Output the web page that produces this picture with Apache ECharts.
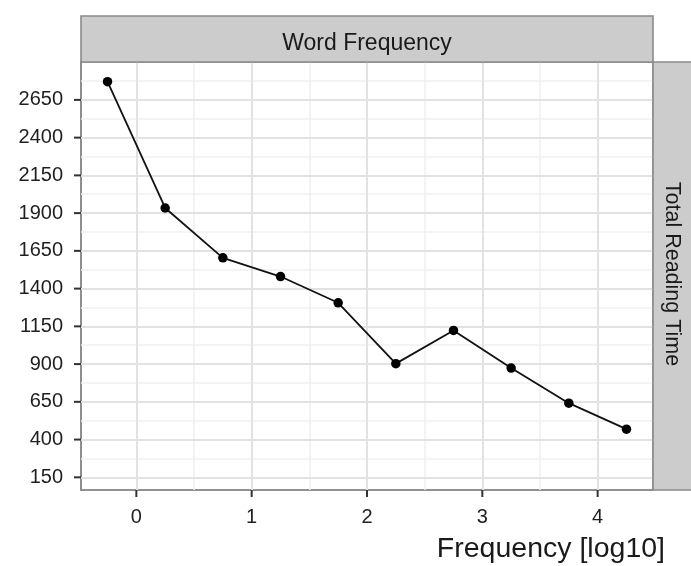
<!DOCTYPE html>
<html>
<head>
<meta charset="utf-8">
<script src="https://cdn.jsdelivr.net/npm/echarts@6/dist/echarts.min.js"></script>
<style>
  html, body { margin: 0; padding: 0; background: #ffffff; }
  #chart { width: 691px; height: 566px; }
</style>
</head>
<body>
<div id="chart"></div>
<script>
// Mean total reading time per word-frequency bin (log10 scale)
const frequencyLog10 = [-0.25, 0.25, 0.75, 1.25, 1.75, 2.25, 2.75, 3.25, 3.75, 4.25];
const readingTime = [2771, 1934, 1604, 1480, 1306, 903, 1123, 874, 641, 469];

// Tick positions and grid lines
const xTicks = [0, 1, 2, 3, 4];
const xMinor = [0.5, 1.5, 2.5, 3.5];
const yTicks = [150, 400, 650, 900, 1150, 1400, 1650, 1900, 2150, 2400, 2650];
const yMinor = [275, 525, 775, 1025, 1275, 1525, 1775, 2025, 2275, 2525, 2775];

const stripTitle = 'Word Frequency';
const rowTitle = 'Total Reading Time';
const xTitle = 'Frequency [log10]';

const chart = echarts.init(document.getElementById('chart'), null, { renderer: 'canvas' });

const gridLeft = 81, gridRight = 38, gridTop = 62, gridBottom = 76;
const W = 691, H = 566;
const panelRight = W - gridRight;
const panelBottom = H - gridBottom;
const xMin = -0.48, xMax = 4.48, yMin = 66, yMax = 2901;

const majorStyle = { color: '#e2e2e2', width: 2, type: 'solid' };
const minorStyle = { color: '#f1f1f1', width: 1.5, type: 'solid' };

const gridLines = []
  .concat(xMinor.map(v => ({ xAxis: v, lineStyle: minorStyle })))
  .concat(yMinor.map(v => ({ yAxis: v, lineStyle: minorStyle })))
  .concat(xTicks.map(v => ({ xAxis: v, lineStyle: majorStyle })))
  .concat(yTicks.map(v => ({ yAxis: v, lineStyle: majorStyle })));

const labelFont = { fontFamily: 'Liberation Sans, Arial, sans-serif', fontSize: 20, color: '#1f1f1f' };
const tickLen = 7;

// Outward tick marks, positioned through the axis scales
function xTickItem(params, api) {
  const p = api.coord([api.value(0), yMin]);
  return {
    type: 'line',
    shape: { x1: p[0], y1: p[1], x2: p[0], y2: p[1] + tickLen },
    style: { stroke: '#333333', lineWidth: 2 }
  };
}
function yTickItem(params, api) {
  const p = api.coord([xMin, api.value(1)]);
  return {
    type: 'line',
    shape: { x1: p[0] - tickLen, y1: p[1], x2: p[0], y2: p[1] },
    style: { stroke: '#333333', lineWidth: 2 }
  };
}

chart.setOption({
  animation: false,
  backgroundColor: '#ffffff',
  grid: {
    left: gridLeft, right: gridRight, top: gridTop, bottom: gridBottom,
    show: true, borderColor: '#8a8a8a', borderWidth: 1.6, backgroundColor: 'transparent'
  },
  xAxis: {
    type: 'value',
    min: xMin,
    max: xMax,
    axisLine: { show: true, onZero: false, lineStyle: { color: '#8a8a8a', width: 1.6 } },
    axisTick: { show: false },
    axisLabel: Object.assign({ customValues: xTicks, margin: 17 }, labelFont),
    splitLine: { show: false }
  },
  yAxis: {
    type: 'value',
    min: yMin,
    max: yMax,
    axisLine: { show: true, onZero: false, lineStyle: { color: '#8a8a8a', width: 1.6 } },
    axisTick: { show: false },
    axisLabel: Object.assign({ customValues: yTicks, margin: 18, formatter: v => String(v) }, labelFont),
    splitLine: { show: false }
  },
  series: [
    {
      type: 'scatter',
      data: [],
      silent: true,
      z: 1,
      markLine: {
        silent: true,
        symbol: ['none', 'none'],
        label: { show: false },
        animation: false,
        data: gridLines
      }
    },
    {
      type: 'custom',
      silent: true,
      clip: false,
      z: 20,
      renderItem: xTickItem,
      encode: { x: 0, y: 1 },
      data: xTicks.map(v => [v, 1000])
    },
    {
      type: 'custom',
      silent: true,
      clip: false,
      z: 20,
      renderItem: yTickItem,
      encode: { x: 0, y: 1 },
      data: yTicks.map(v => [1, v])
    },
    {
      type: 'line',
      data: frequencyLog10.map((x, i) => [x, readingTime[i]]),
      z: 5,
      symbol: 'circle',
      symbolSize: 9.5,
      showSymbol: true,
      itemStyle: { color: '#000000' },
      lineStyle: { color: '#111111', width: 1.8 }
    }
  ],
  graphic: [
    {
      type: 'rect',
      shape: { x: gridLeft, y: 16, width: panelRight - gridLeft, height: gridTop - 16 },
      style: { fill: '#cccccc', stroke: '#8a8a8a', lineWidth: 1.6 },
      z: 10
    },
    {
      type: 'text',
      x: (gridLeft + panelRight) / 2,
      y: 44,
      style: {
        text: stripTitle, fill: '#1a1a1a',
        font: '23px "Liberation Sans", Arial, sans-serif',
        align: 'center', verticalAlign: 'middle'
      },
      z: 11
    },
    {
      type: 'rect',
      shape: { x: panelRight, y: gridTop, width: W - panelRight + 2, height: panelBottom - gridTop },
      style: { fill: '#cccccc', stroke: '#8a8a8a', lineWidth: 1.6 },
      z: 10
    },
    {
      type: 'text',
      x: 672,
      y: 274,
      rotation: -Math.PI / 2,
      style: {
        text: rowTitle, fill: '#1a1a1a',
        font: '21.5px "Liberation Sans", Arial, sans-serif',
        align: 'center', verticalAlign: 'middle'
      },
      z: 11
    },
    {
      type: 'text',
      x: 665,
      y: 549,
      style: {
        text: xTitle, fill: '#1a1a1a',
        font: '28.5px "Liberation Sans", Arial, sans-serif',
        align: 'right', verticalAlign: 'middle'
      },
      z: 11
    }
  ]
});
</script>
</body>
</html>
